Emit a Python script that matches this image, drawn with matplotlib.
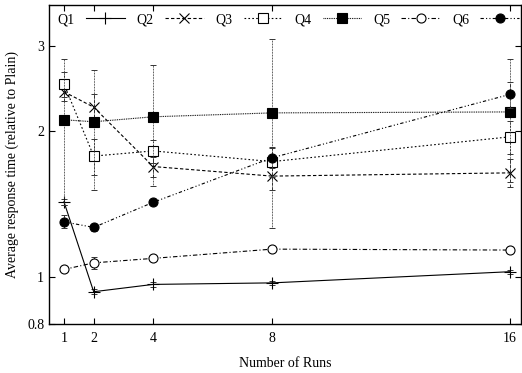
import matplotlib
matplotlib.use('Agg')
import matplotlib.pyplot as plt
from matplotlib.ticker import FixedLocator, NullLocator, FixedFormatter

plt.rcParams['font.family'] = ['Liberation Serif', 'DejaVu Serif']
plt.rcParams['font.size'] = 10

# data
runs = [1, 2, 4, 8, 16]
labels = ['Q1', 'Q2', 'Q3', 'Q4', 'Q5', 'Q6']

q1 = [1.43, 0.933, 0.966, 0.973, 1.026]
q1_err = [0.02, 0.01, 0.01, 0.01, 0.01]
q2 = [2.41, 2.24, 1.69, 1.615, 1.64]
q2_err = [0.10, 0.15, 0.08, 0.10, 0.11]
q3 = [2.50, 1.776, 1.82, 1.73, 1.946]
q3_err = [0.15, 0.15, 0.10, 0.12, 0.15]
q4 = [2.11, 2.09, 2.14, 2.18, 2.19]
q4_err = [0.70, 0.58, 0.60, 0.92, 0.62]
q5 = [1.037, 1.07, 1.093, 1.142, 1.137]
q5_err = [0.01, 0.03, 0.015, 0.01, 0.01]
q6 = [1.30, 1.266, 1.426, 1.762, 2.38]
q6_err = [0.04, 0.02, 0.02, 0.08, 0.15]

series = [q1, q2, q3, q4, q5, q6]
errors = [q1_err, q2_err, q3_err, q4_err, q5_err, q6_err]

# gnuplot-ish line/point styles
styles = [
    dict(ls='-', marker='+', ms=8, mfc='black'),
    dict(ls=(0, (3, 2)), marker='x', ms=7, mfc='black'),
    dict(ls=(0, (1.5, 2)), marker='s', ms=7, mfc='white'),
    dict(ls=(0, (0.8, 0.8)), marker='s', ms=7, mfc='black'),
    dict(ls=(0, (4, 2, 1, 2)), marker='o', ms=6.5, mfc='white'),
    dict(ls=(0, (3, 2, 1, 2, 1, 2)), marker='o', ms=6.5, mfc='black'),
]

fig = plt.figure(figsize=(5.22, 3.73), dpi=100)
ax = fig.add_axes([0.094, 0.131, 0.904, 0.856])

for lab, ys, err, st in zip(labels, series, errors, styles):
    eb = ax.errorbar(runs, ys, yerr=err, fmt='none', ecolor='#333333', elinewidth=0.7,
                     capsize=2, capthick=0.7)
    for coll in eb[2]:
        coll.set_linestyle(st['ls'] if st['ls'] != '-' else (0, (1, 1)))
    ax.plot(runs, ys, color='black', lw=0.8, linestyle=st['ls'], marker=st['marker'],
            ms=st['ms'], mfc=st['mfc'], mec='black', mew=0.8, label=lab)

ax.set_yscale('log')
ax.set_ylim(0.8, 3.64)
ax.set_xlim(0.5, 16.37)
ax.yaxis.set_major_locator(FixedLocator([0.8, 1, 2, 3]))
ax.yaxis.set_major_formatter(FixedFormatter(['0.8', '1', '2', '3']))
ax.yaxis.set_minor_locator(NullLocator())
ax.set_xticks(runs)
ax.set_xticklabels([str(r) for r in runs])
ax.tick_params(direction='in', length=4, width=0.8, top=True, right=True, labelsize=10)
ax.tick_params(axis='x', pad=6)

for s in ax.spines.values():
    s.set_linewidth(1.0)

ax.set_xlabel('Number of Runs', labelpad=8)
ax.set_ylabel('Average response time (relative to Plain)', labelpad=6)

ax.legend(loc='upper center', bbox_to_anchor=(0.507, 1.0), ncol=6, frameon=False,
          markerfirst=False, handlelength=2.8, handletextpad=0.8, columnspacing=0.85,
          borderaxespad=0.2, fontsize=10)

fig.savefig('out.png', dpi=100)
